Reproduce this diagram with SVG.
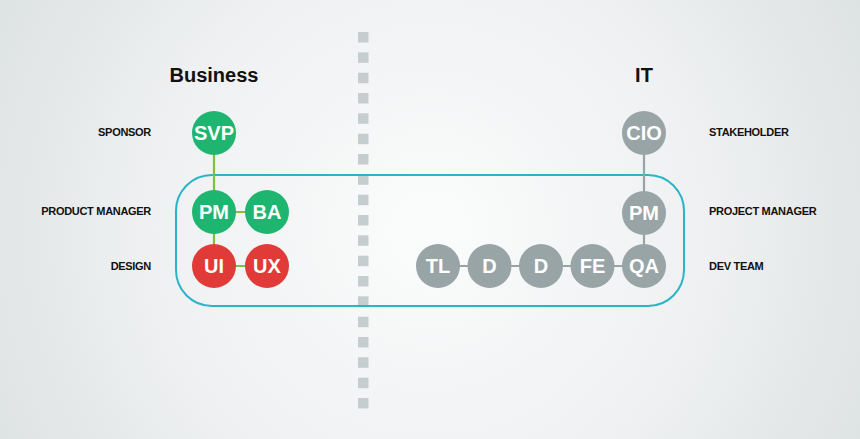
<svg xmlns="http://www.w3.org/2000/svg" width="860" height="439" viewBox="0 0 860 439">
<defs>
<radialGradient id="bg" cx="430" cy="230" r="520" gradientUnits="userSpaceOnUse">
<stop offset="0" stop-color="#fbfcfc"/>
<stop offset="0.55" stop-color="#eef0f1"/>
<stop offset="1" stop-color="#dbe0e1"/>
</radialGradient>
<style>
.title{font-family:"Liberation Sans",Arial,sans-serif;font-weight:bold;font-size:20px;fill:#111;text-anchor:middle}
.lbl{font-family:"Liberation Sans",Arial,sans-serif;font-weight:bold;font-size:11px;fill:#111;letter-spacing:-0.3px}
.l{text-anchor:end}
.r{text-anchor:start}
.ct{font-family:"Liberation Sans",Arial,sans-serif;font-weight:bold;font-size:20px;fill:#fff;text-anchor:middle}
.g{fill:#1eb570}
.red{fill:#e03b38}
.gr{fill:#98a4a6}
.dash{fill:#c5cdcf}
.gl{stroke:#7cc242;stroke-width:2.2}
.gyl{stroke:#98a4a6;stroke-width:2.2}
</style>
</defs>
<rect width="860" height="439" fill="url(#bg)"/>
<g id="divider" class="dash">
<rect x="358" y="32" width="10.5" height="10.5"/>
<rect x="358" y="52.3" width="10.5" height="10.5"/>
<rect x="358" y="72.7" width="10.5" height="10.5"/>
<rect x="358" y="93" width="10.5" height="10.5"/>
<rect x="358" y="113.3" width="10.5" height="10.5"/>
<rect x="358" y="133.7" width="10.5" height="10.5"/>
<rect x="358" y="154" width="10.5" height="10.5"/>
<rect x="358" y="174.3" width="10.5" height="10.5"/>
<rect x="358" y="194.7" width="10.5" height="10.5"/>
<rect x="358" y="215" width="10.5" height="10.5"/>
<rect x="358" y="235.3" width="10.5" height="10.5"/>
<rect x="358" y="255.7" width="10.5" height="10.5"/>
<rect x="358" y="276" width="10.5" height="10.5"/>
<rect x="358" y="296.3" width="10.5" height="10.5"/>
<rect x="358" y="316.7" width="10.5" height="10.5"/>
<rect x="358" y="337" width="10.5" height="10.5"/>
<rect x="358" y="357.3" width="10.5" height="10.5"/>
<rect x="358" y="377.7" width="10.5" height="10.5"/>
<rect x="358" y="398" width="10.5" height="10.5"/>
</g>
<g id="group-box">
<rect x="176" y="175" width="508" height="131" rx="36" ry="36" fill="none" stroke="#2ab4c7" stroke-width="2"/>
</g>
<g id="titles">
<text class="title" x="214" y="82">Business</text>
<text class="title" x="644" y="82">IT</text>
</g>
<g id="labels">
<text class="lbl l" x="151" y="136">SPONSOR</text>
<text class="lbl l" x="151" y="215">PRODUCT MANAGER</text>
<text class="lbl l" x="151" y="270">DESIGN</text>
<text class="lbl r" x="709" y="136">STAKEHOLDER</text>
<text class="lbl r" x="709" y="215">PROJECT MANAGER</text>
<text class="lbl r" x="709" y="270">DEV TEAM</text>
</g>
<g id="connectors">
<line class="gl" x1="214" y1="133" x2="214" y2="266"/>
<line class="gl" x1="214" y1="212" x2="267" y2="212"/>
<line class="gl" x1="214" y1="266" x2="267" y2="266"/>
<line class="gyl" x1="644" y1="133" x2="644" y2="266"/>
<line class="gyl" x1="438" y1="266" x2="644" y2="266"/>
</g>
<g id="node-svp"><circle class="g" cx="214" cy="133" r="22"/><text class="ct" x="214" y="140">SVP</text></g>
<g id="node-pm-business"><circle class="g" cx="214" cy="212" r="22"/><text class="ct" x="214" y="219">PM</text></g>
<g id="node-ba"><circle class="g" cx="267" cy="212" r="22"/><text class="ct" x="267" y="219">BA</text></g>
<g id="node-ui"><circle class="red" cx="214" cy="266" r="22"/><text class="ct" x="214" y="273">UI</text></g>
<g id="node-ux"><circle class="red" cx="267" cy="266" r="22"/><text class="ct" x="267" y="273">UX</text></g>
<g id="node-cio"><circle class="gr" cx="644" cy="133" r="22"/><text class="ct" x="644" y="140">CIO</text></g>
<g id="node-pm-it"><circle class="gr" cx="644" cy="213" r="22"/><text class="ct" x="644" y="220">PM</text></g>
<g id="node-qa"><circle class="gr" cx="644" cy="266" r="22"/><text class="ct" x="644" y="273">QA</text></g>
<g id="node-fe"><circle class="gr" cx="592.5" cy="266" r="22"/><text class="ct" x="592.5" y="273">FE</text></g>
<g id="node-d2"><circle class="gr" cx="541" cy="266" r="22"/><text class="ct" x="541" y="273">D</text></g>
<g id="node-d1"><circle class="gr" cx="489.5" cy="266" r="22"/><text class="ct" x="489.5" y="273">D</text></g>
<g id="node-tl"><circle class="gr" cx="438" cy="266" r="22"/><text class="ct" x="438" y="273">TL</text></g>
</svg>
